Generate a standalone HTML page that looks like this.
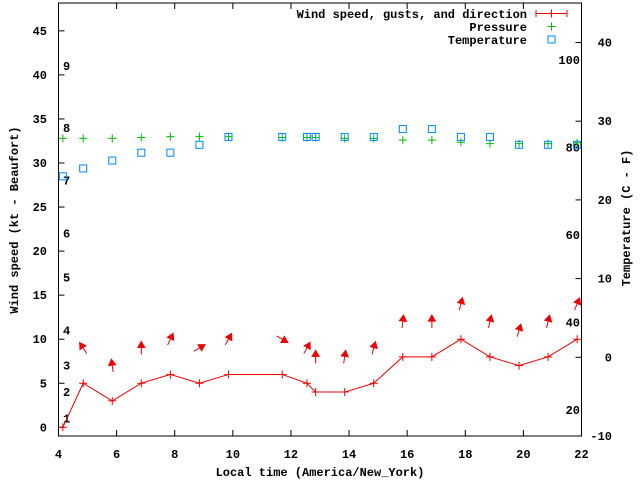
<!DOCTYPE html>
<html><head><meta charset="utf-8"><style>
body{margin:0;background:#fff}
svg{display:block}
text{font-family:"Liberation Mono",monospace;font-weight:bold;font-size:12px;fill:#000}
</style></head><body>
<svg id="chart" width="640" height="480" viewBox="0 0 640 480" xmlns="http://www.w3.org/2000/svg">
<rect x="0" y="0" width="640" height="480" fill="#fff"/>
<g id="axes"></g>
<g id="series"></g>
<text transform="translate(18,220) rotate(-90)" text-anchor="middle">Wind speed (kt - Beaufort)</text>
<text transform="translate(630,218) rotate(-90)" text-anchor="middle">Temperature (C - F)</text>
<text x="320" y="476" text-anchor="middle">Local time (America/New_York)</text>
<g>
<text x="527" y="18" text-anchor="end">Wind speed, gusts, and direction</text>
<g stroke="#e00" stroke-width="1"><line x1="536" y1="13.5" x2="567" y2="13.5"/><line x1="536" y1="10" x2="536" y2="17"/><line x1="567" y1="10" x2="567" y2="17"/><line x1="551.5" y1="9.5" x2="551.5" y2="17.5"/></g>
<text x="527" y="31" text-anchor="end">Pressure</text>
<g stroke="#0b0" stroke-width="1"><line x1="547.5" y1="26.5" x2="555.5" y2="26.5"/><line x1="551.5" y1="22.5" x2="551.5" y2="30.5"/></g>
<text x="527" y="44" text-anchor="end">Temperature</text>
<rect x="548" y="36" width="7" height="7" fill="none" stroke="#08f" stroke-width="1"/>
</g>
</svg>
<script>
const times = [4.15,4.85,5.85,6.85,7.85,8.85,9.85,11.7,12.55,12.85,13.85,14.85,15.85,16.85,17.85,18.85,19.85,20.85,21.85];
const windSpeed = [0,5,3,5,6,5,6,6,5,4,4,5,8,8,10,8,7,8,10];
const windDir = [null,-33,-8,0,25,59,29,120,29,0,9,15,7,0,14,13,16,14,23];
const pressure = [32.8,32.8,32.8,32.9,33.0,33.0,33.0,32.9,32.9,32.9,32.8,32.8,32.6,32.6,32.35,32.2,32.2,32.2,32.3];
const temperatureC = [23,24,25,26,26,27,28,28,28,28,28,28,29,29,28,28,27,27,27];
const xTicks = [4,6,8,10,12,14,16,18,20,22];
const yTicks = [0,5,10,15,20,25,30,35,40,45];
const y2Ticks = [-10,0,10,20,30,40];
const beaufortKt = [1,4,7,11,17,22,28,34,41];
const beaufortLabels = ["1","2","3","4","5","6","7","8","9"];
const fahrenheit = [20,40,60,80,100];

const L=58.5,R=581.5,T=3,B=436;
const X=t=>L+(t-4)*(R-L)/18;
const Y=v=>427.3-v*8.81;
const Y2=c=>357.3-c*7.87;
const NS="http://www.w3.org/2000/svg";
function mk(tag,attrs,parent){const e=document.createElementNS(NS,tag);for(const k in attrs)e.setAttribute(k,attrs[k]);parent.appendChild(e);return e;}
const ax=document.getElementById('axes'), sr=document.getElementById('series');

const frame=mk('rect',{x:L,y:T,width:R-L,height:B-T,fill:'none',stroke:'#000','stroke-width':1},ax);


xTicks.forEach(t=>{
  const x=X(t);
  const tk=mk('path',{d:`M${x},${B}v-6M${x},${T}v6`,stroke:'#000'},ax);
  
  
  const tx=mk('text',{x:x,y:B+22,'text-anchor':'middle'},ax);tx.textContent=t;
  
  
});
yTicks.forEach(v=>{
  const y=Y(v);
  const tk=mk('path',{d:`M${L},${y}h6`,stroke:'#000'},ax);
  
  
  const tx=mk('text',{x:47,y:y+4,'text-anchor':'end'},ax);tx.textContent=v;
  
  
});
y2Ticks.forEach(v=>{
  const y=Y2(v);
  const tk=mk('path',{d:`M${R},${y}h-6`,stroke:'#000'},ax);
  
  
  const tx=mk('text',{x:612,y:y+4,'text-anchor':'end'},ax);tx.textContent=v;
  
  
});
beaufortKt.forEach((k,i)=>{
  const tx=mk('text',{x:63,y:Y(k)+4},ax);tx.textContent=beaufortLabels[i];
  
  
});
fahrenheit.forEach(f=>{
  const tx=mk('text',{x:580,y:Y2((f-32)*5/9)+4,'text-anchor':'end'},ax);tx.textContent=f;
  
  
});

// pressure
times.forEach((t,i)=>{
  const x=X(t),y=Y(pressure[i]);
  const p=mk('path',{d:`M${x-4},${y}h8M${x},${y-4}v8`,stroke:'#0b0'},sr);
  
  
});
// temperature
times.forEach((t,i)=>{
  const x=X(t),y=Y2(temperatureC[i]);
  const r=mk('rect',{x:x-3.5,y:y-3.5,width:7,height:7,fill:'none',stroke:'#08f'},sr);
  
  
});
// wind line
const line=mk('polyline',{points:times.map((t,i)=>X(t)+','+Y(windSpeed[i])).join(' '),fill:'none',stroke:'#e00'},sr);


times.forEach((t,i)=>{
  const x=X(t),y=Y(windSpeed[i]);
  const p=mk('path',{d:`M${x-4},${y}h8M${x},${y-4}v8`,stroke:'#e00'},sr);
  
  
  if(windDir[i]===null) return;
  const a=windDir[i]*Math.PI/180, cx=x, cy=Y(windSpeed[i]+4), h=6.5;
  const dx=Math.sin(a), dy=-Math.cos(a);
  const hx=cx+dx*h, hy=cy+dy*h, tx=cx-dx*h, ty=cy-dy*h;
  const px=-dy, py=dx;
  const g=mk('g',{},sr);
  
  
  mk('line',{x1:tx,y1:ty,x2:hx,y2:hy,stroke:'#e00'},g);
  const bx=hx-dx*6, by=hy-dy*6;
  mk('polygon',{points:`${hx},${hy} ${bx+px*3.5},${by+py*3.5} ${bx-px*3.5},${by-py*3.5}`,fill:'#e00',stroke:'#e00'},g);
});
</script>
</body></html>
